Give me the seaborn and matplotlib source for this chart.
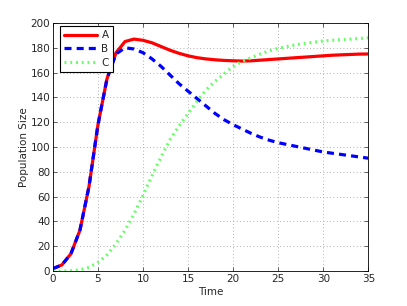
import numpy as np
import pandas as pd
import seaborn as sns
import matplotlib
matplotlib.use("Agg")
import matplotlib.pyplot as plt

# Data -----------------------------------
time = list(range(0, 36))
pop_a = [2, 5, 14, 33, 68, 118, 155, 176, 185, 187, 186, 184, 181, 178, 175.5, 173.5,
         172, 171, 170.3, 169.8, 169.5, 169.3, 169.5, 170, 170.5, 171, 171.5, 172, 172.5,
         173, 173.5, 174, 174.3, 174.6, 174.9, 175]
pop_b = [2, 5, 14, 33, 68, 118, 155, 175, 180, 179, 176, 171, 165, 158, 151, 145,
         139, 133, 127, 122, 118, 114.5, 111, 108, 105.5, 103.5, 102, 100.5, 99, 97.5,
         96, 95, 94, 93, 92, 91]
pop_c = [0, 0, 0.3, 1, 3, 7, 13, 22, 33, 46, 61, 77, 92, 106, 117, 127, 137, 146, 153,
         159, 165, 169, 172, 175, 177.5, 179.5, 181, 182.5, 183.5, 184.5, 185.5, 186,
         186.5, 187, 187.5, 188]
series = ["A", "B", "C"]

df = pd.DataFrame({"Time": time * 3,
                   "Population": pop_a + pop_b + pop_c,
                   "Series": np.repeat(series, len(time))})

sns.set_style("white")
plt.rcParams['font.family'] = ['DejaVu Sans']

fig = plt.figure(figsize=(4.07, 3.06), dpi=100)
ax = fig.add_axes([0.13, 0.114, 0.775, 0.811])

palette = {"A": "#ff0000", "B": "#0000ff", "C": "#66ff66"}
sns.lineplot(data=df, x="Time", y="Population", hue="Series", style="Series",
             palette=palette, dashes={"A": "", "B": (2.2, 1.6), "C": (0.6, 1.2)},
             linewidth=2.3, ax=ax)

ax.set_xlim(0, 35)
ax.set_ylim(0, 200)
ax.set_xticks(range(0, 36, 5))
ax.set_yticks(range(0, 201, 20))
ax.tick_params(direction="in", length=3, width=0.5, labelsize=7.5, pad=2,
               top=True, right=True, bottom=True, left=True)
ax.grid(True, linestyle=(0, (1, 3)), color="#999999", linewidth=0.6)
for s in ax.spines.values():
    s.set_color("black")
    s.set_linewidth(0.6)
ax.set_xlabel("Time", fontsize=7.5, labelpad=2)
ax.set_ylabel("Population Size", fontsize=7.5, labelpad=1)

leg = ax.legend(loc="upper left", fontsize=7.5, frameon=True, fancybox=False,
                edgecolor="black", framealpha=1, handlelength=3.2,
                borderaxespad=0.3, labelspacing=0.35, handletextpad=0.4,
                borderpad=0.4, bbox_to_anchor=(0.012, 1.0))
leg.get_frame().set_linewidth(0.8)

fig.savefig("out.png", dpi=100)
